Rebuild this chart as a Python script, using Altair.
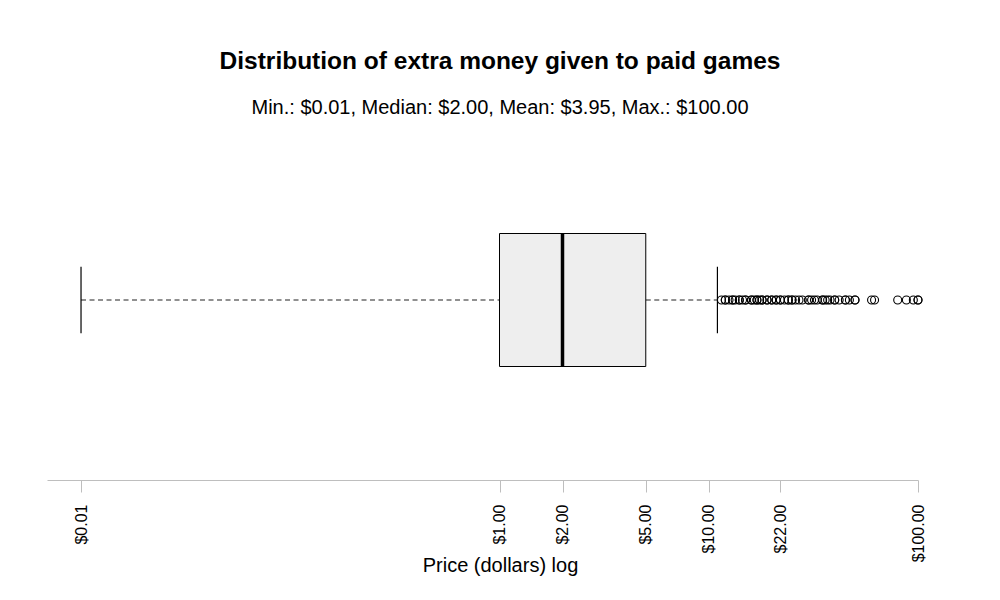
import altair as alt
import pandas as pd

# ---- data ----
group = ["paid"]
stat_min = [0.01]
q1 = [1.00]
median = [2.00]
q3 = [5.00]
whisker_hi = [11.00]
outliers = [11.5, 11.99, 12, 12.5, 12.99, 13, 13.37, 13.99, 14, 14.5, 14.99, 15,
            15.99, 16, 16.5, 16.99, 17, 17.5, 17.99, 18, 18.99, 19, 19.99, 20,
            20.99, 21, 21.99, 22, 23, 23.99, 24, 24.99, 25, 26, 27, 28, 29.99,
            30, 31, 32, 33, 34.99, 35, 36, 37, 38, 39.99, 40, 42, 44.99, 45, 47,
            49.99, 50, 59.99, 62, 79.99, 88, 95, 99.99, 100]
tick_values = [0.01, 1, 2, 5, 10, 22, 100]

title_text = "Distribution of extra money given to paid games"
subtitle_text = "Min.: $0.01, Median: $2.00, Mean: $3.95, Max.: $100.00"
x_title = "Price (dollars) log"

stats = pd.DataFrame({"group": group, "lo": stat_min, "q1": q1,
                      "med": median, "q3": q3, "hi": whisker_hi})
out = pd.DataFrame({"group": group * len(outliers), "price": outliers})

FONT = "Liberation Sans"
PLOT_W, PLOT_H = 871, 360
BAND = 133

xscale = alt.Scale(type="log", domain=[0.006877, 100], nice=False)
yscale = alt.Scale(domain=group, paddingInner=0, paddingOuter=(PLOT_H / BAND - 1) / 2)
Y = alt.Y("group:N", scale=yscale, axis=None)

xaxis = alt.Axis(values=tick_values,
                 labelExpr="'$' + format(datum.value, '.2f')",
                 labelAngle=270, title=x_title, titleX=453, titleY=85,
                 titleAlign="center", titleBaseline="middle")

base_s = alt.Chart(stats)

whisk_lo = base_s.mark_rule(color="#222222", strokeDash=[5, 3.5], strokeWidth=1.1).encode(
    x=alt.X("lo:Q", scale=xscale, axis=xaxis), x2="q1:Q", y=Y)
whisk_hi = base_s.mark_rule(color="#222222", strokeDash=[5, 3.5], strokeWidth=1.1).encode(
    x=alt.X("q3:Q", scale=xscale), x2="hi:Q", y=Y)
cap_lo = base_s.mark_tick(color="black", size=BAND / 2, thickness=1.2, opacity=1).encode(
    x=alt.X("lo:Q", scale=xscale), y=Y)
cap_hi = base_s.mark_tick(color="black", size=BAND / 2, thickness=1.2, opacity=1).encode(
    x=alt.X("hi:Q", scale=xscale), y=Y)
box = base_s.mark_bar(fill="#EEEEEE", stroke="black", strokeWidth=1).encode(
    x=alt.X("q1:Q", scale=xscale), x2="q3:Q", y=Y)
med = base_s.mark_tick(color="black", size=BAND, thickness=3.5, opacity=1).encode(
    x=alt.X("med:Q", scale=xscale), y=Y)
pts = alt.Chart(out).mark_point(shape="circle", filled=False, size=64, color="black",
                                strokeWidth=1.1, opacity=1).encode(
    x=alt.X("price:Q", scale=xscale), y=Y)

chart = alt.layer(whisk_lo, whisk_hi, cap_lo, cap_hi, box, med, pts).properties(
    width=PLOT_W, height=PLOT_H,
    title=alt.Title(text=title_text, subtitle=subtitle_text, anchor="middle", dx=17.5,
                    font=FONT, fontSize=24.5, fontWeight="bold", color="black",
                    subtitleFont=FONT, subtitleFontSize=20, subtitleColor="black",
                    offset=1, subtitlePadding=24),
    autosize=alt.AutoSizeParams(type="none"),
    padding={"left": 39, "top": 112, "right": 74, "bottom": 112},
).configure_view(stroke=None).configure_axis(
    grid=False, domainColor="#BEBEBE", tickColor="#BEBEBE", tickSize=12,
    labelPadding=12, labelFont=FONT, labelFontSize=16, labelColor="black",
    titleFont=FONT, titleFontSize=20, titleFontWeight="normal", titleColor="black",
)

chart.save("out.html", embed_options={"renderer": "svg", "actions": False})
